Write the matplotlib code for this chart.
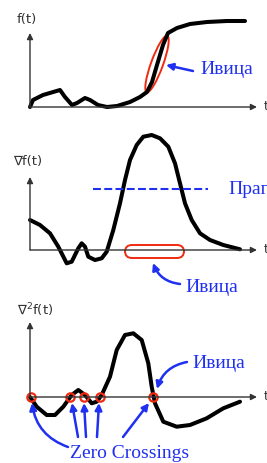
import matplotlib
matplotlib.use("Agg")
import matplotlib.pyplot as plt
from matplotlib.patches import Ellipse, FancyBboxPatch

# traced curves, t measured from the axis origin, value upward (pixel units)
t1 = [0, 3, 13, 30, 35, 42, 47, 55, 60, 68, 77, 87, 100, 110, 117, 122, 127, 133, 138, 147, 160, 177, 197, 215]
f1 = [0, 7, 12, 17, 10, 2, 4, 9, 7, 2, 0, 1, 5, 10, 15, 25, 42, 62, 74, 79, 83, 85, 86, 86]

t2 = [0, 10, 20, 28.3, 36.7, 41.7, 48.3, 51.7, 55, 58.3, 65, 71.7, 76.7, 83.3, 90, 95, 100,
      106.7, 113.3, 121.7, 130, 138.3, 145, 150, 155, 161.7, 170, 180, 193.3, 210]
f2 = [30, 25, 16.7, 3.3, -13.3, -11.7, 1.7, 6.7, 3.3, -6.7, -10, -8.3, -1.7, 20, 46.7, 70, 90,
      105, 113.3, 115, 111.7, 103.3, 86.7, 66.7, 46.7, 30, 16.7, 10, 5, 0.7]

t3 = [0, 6.7, 16.7, 25, 33.3, 41.7, 48.3, 55, 61.7, 66.7, 71.7, 80, 86.7, 95, 103.3, 111.7,
      118.3, 121.7, 125, 133.3, 146.7, 160, 176.7, 193.3, 210]
f3 = [0, -9.7, -18, -18, -9.7, 2, 7, 2, -6.3, -4.7, 2, 20.3, 47, 62, 63.7, 57,
      33.7, 10.3, -6.3, -24.7, -29.7, -28, -21.3, -11.3, -4.7]
zero_t = [0.5, 40, 54, 70, 123]

origins = [107, 250, 397]       # pixel row of each t axis
labels = ["f(t)", "\u2207f(t)", r"$\nabla^{2}$f(t)"]

W, H = 267, 463
blue = "#2030f0"
red = "#f02a10"
serif = ["Liberation Serif", "DejaVu Serif"]

fig = plt.figure(figsize=(W / 100, H / 100), dpi=100)
fig.patch.set_facecolor("white")

axes = []
for oy in origins:
    ax = fig.add_axes([0, 0, 1, 1])
    ax.set_xlim(-30, W - 30)
    ax.set_ylim(oy - H, oy)
    ax.axis("off")
    ax.patch.set_alpha(0)
    axes.append(ax)

def draw_axes(ax, top, label, lx, ly):
    ax.annotate("", xy=(0, top), xytext=(0, 0),
                arrowprops=dict(arrowstyle="-|>", color="#333333", lw=1.0,
                                mutation_scale=9, shrinkA=0, shrinkB=0))
    ax.annotate("", xy=(227, 0), xytext=(0, 0),
                arrowprops=dict(arrowstyle="-|>", color="#333333", lw=1.0,
                                mutation_scale=9, shrinkA=0, shrinkB=0))
    ax.text(234, 0, "t", fontsize=9, color="#333333", ha="left", va="center")
    ax.text(lx, ly, label, fontsize=9.5, color="#333333", ha="center", va="center")

def blue_arrow(ax, tail, head, rad=0.0):
    ax.annotate("", xy=head, xytext=tail,
                arrowprops=dict(arrowstyle="-|>", color=blue, lw=1.8, mutation_scale=10,
                                shrinkA=0, shrinkB=0,
                                connectionstyle="arc3,rad=%s" % rad))

# panel 1
ax = axes[0]
draw_axes(ax, 74, labels[0], -3, 87)
ax.plot(t1, f1, color="black", lw=2.9, solid_joinstyle="round", solid_capstyle="round")
ax.add_patch(Ellipse((127, 43), 60, 12, angle=70, fill=False, ec=red, lw=1.4))
blue_arrow(ax, (163, 36), (136, 42))
ax.text(170, 37, "Ивица", fontsize=14, color=blue, family=serif, ha="left", va="center")

# panel 2
ax = axes[1]
draw_axes(ax, 73, labels[1], -2, 89)
ax.plot(t2, f2, color="black", lw=2.9, solid_joinstyle="round", solid_capstyle="round")
ax.plot([63, 178], [61, 61], color=blue, lw=1.5, dashes=(3.8, 1.6))
ax.text(198, 61, "Праг", fontsize=14, color=blue, family=serif, ha="left", va="center")
ax.add_patch(FancyBboxPatch((98, -5), 53, 7, boxstyle="round,pad=3,rounding_size=7",
                            fill=False, ec=red, lw=1.4))
blue_arrow(ax, (150, -34), (123, -13), rad=-0.3)
ax.text(155, -37, "Ивица", fontsize=14, color=blue, family=serif, ha="left", va="center")

# panel 3
ax = axes[2]
draw_axes(ax, 75, labels[2], 5, 87)
ax.plot(t3, f3, color="black", lw=2.9, solid_joinstyle="round", solid_capstyle="round")
ax.plot(zero_t, [0] * len(zero_t), "o", ms=6, mfc="none", mec=red, mew=1.6)
blue_arrow(ax, (38, -50), (2, -6), rad=-0.3)
blue_arrow(ax, (48, -40), (42, -6))
blue_arrow(ax, (56, -40), (54, -6))
blue_arrow(ax, (67, -40), (69, -6))
blue_arrow(ax, (93, -40), (119, -6))
blue_arrow(ax, (157, 35), (127, 8), rad=0.3)
ax.text(162, 34, "Ивица", fontsize=14, color=blue, family=serif, ha="left", va="center")
ax.text(40, -56, "Zero Crossings", fontsize=14, color=blue, family=serif, ha="left", va="center")

fig.savefig("out.png", dpi=100)
